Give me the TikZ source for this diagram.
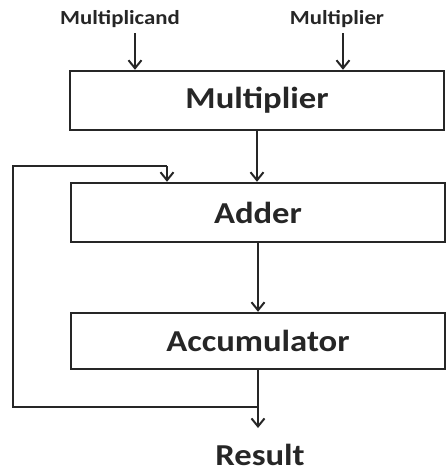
\documentclass[tikz,border=0pt]{standalone}
\usepackage{fontspec}
\setmainfont{Carlito}
\newfontfamily\wide[FakeStretch=1.14]{Carlito}
\usetikzlibrary{arrows.meta}
\begin{document}
\begin{tikzpicture}[x=0.5pt,y=-0.5pt,
  big/.style={font=\wide\bfseries\fontsize{15.2}{18}\selectfont,text=black!85},
  unit/.style={big,draw=black!85,line width=1.2pt,rectangle,inner sep=0pt,
    minimum width=187pt},
  sig/.style={font=\wide\bfseries\fontsize{10}{12}\selectfont,text=black!85,inner sep=0pt,anchor=base},
  wire/.style={draw=black!85,line width=1.1pt},
  arr/.style={wire,-{Straight Barb[length=4pt,width=6.5pt,line width=1pt]}}]
\useasboundingbox (0,0) rectangle (448,471);
% blocks
\node[unit,minimum height=29.5pt] (mul) at (257,100.5) {Multiplier};
\node[unit,minimum height=29.5pt] (add) at (258,212.5) {Adder};
\node[unit,minimum height=28pt] (acc) at (258,341) {Accumulator};
% inputs and output
\node[sig] (mcand) at (120,25) {Multiplicand};
\node[sig] (mplier) at (337,25) {Multiplier};
\node[big,inner sep=0pt,anchor=base] (res) at (260,465.5) {Result};
% helper points
\coordinate (inA) at (135,33);
\coordinate (inB) at (343,33);
\coordinate (out) at (258,428);
\coordinate (tap) at (258,407);
\coordinate (left) at (13,166);
\coordinate (fbin) at (167,166);
% connectors
\draw[arr] (inA) -- (inA |- mul.north);
\draw[arr] (inB) -- (inB |- mul.north);
\draw[arr] (mul.south) -- (mul.south |- add.north);
\draw[arr] (add.south) -- (acc.north);
\draw[arr] (acc.south) -- (out);
\draw[wire] (tap) -| (left) -- (fbin);
\draw[arr] (fbin) -- (fbin |- add.north);
\end{tikzpicture}
\end{document}
